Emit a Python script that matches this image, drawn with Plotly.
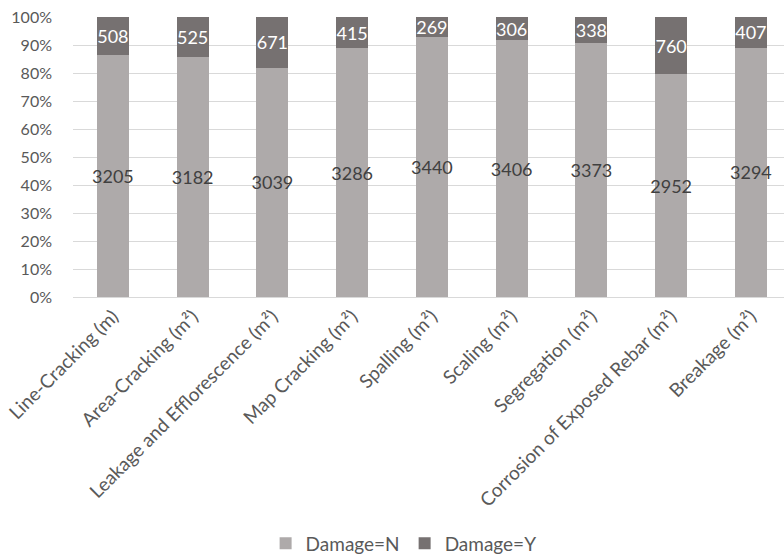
import plotly.graph_objects as go

categories = [
    "Line-Cracking (m)",
    "Area-Cracking (m²)",
    "Leakage and Efflorescence (m²)",
    "Map Cracking (m²)",
    "Spalling (m²)",
    "Scaling (m²)",
    "Segregation (m²)",
    "Corrosion of Exposed Rebar (m²)",
    "Breakage (m²)",
]
damage_n = [3205, 3182, 3039, 3286, 3440, 3406, 3373, 2952, 3294]
damage_y = [508, 525, 671, 415, 269, 306, 338, 760, 407]
y_ticks = [0, 10, 20, 30, 40, 50, 60, 70, 80, 90, 100]

FONT = "Lato, 'Open Sans', sans-serif"
GREY_TEXT = "#595959"

fig = go.Figure()
fig.add_trace(go.Bar(
    name="Damage=N", x=categories, y=damage_n,
    marker=dict(color="#AEAAAA", line=dict(width=0)),
    text=[str(v) for v in damage_n], textposition="inside",
    insidetextanchor="middle", textangle=0, constraintext="none",
    textfont=dict(color="#404040", size=18, family=FONT),
    width=0.4,
))
fig.add_trace(go.Bar(
    name="Damage=Y", x=categories, y=damage_y,
    marker=dict(color="#767171", line=dict(width=0)),
    text=[str(v) for v in damage_y], textposition="inside",
    insidetextanchor="middle", textangle=0, constraintext="none",
    textfont=dict(color="#FFFFFF", size=18, family=FONT),
    width=0.4,
))

fig.update_layout(
    width=784, height=558,
    barmode="stack", barnorm="percent",
    margin=dict(l=73, r=0, t=17, b=261, autoexpand=False),
    paper_bgcolor="white", plot_bgcolor="white",
    font=dict(family=FONT, color=GREY_TEXT, size=15),
    legend=dict(
        orientation="h", x=0.465, xanchor="center", y=-0.88, yanchor="middle",
        font=dict(size=19, color=GREY_TEXT), itemwidth=30,
        traceorder="normal",
    ),
    xaxis=dict(
        range=[-0.5, 8.415], tickangle=-45, showgrid=False,
        showline=True, linecolor="#D9D9D9", linewidth=1,
        tickfont=dict(size=19, color=GREY_TEXT), ticks="",
    ),
    yaxis=dict(
        range=[0, 100], tickvals=y_ticks,
        ticktext=[f"{v}%" for v in y_ticks],
        showgrid=True, gridcolor="#D9D9D9", gridwidth=1,
        zeroline=False, ticks="", ticklabelstandoff=20,
        tickfont=dict(size=16, color=GREY_TEXT),
    ),
)

fig.write_html("out.html")
